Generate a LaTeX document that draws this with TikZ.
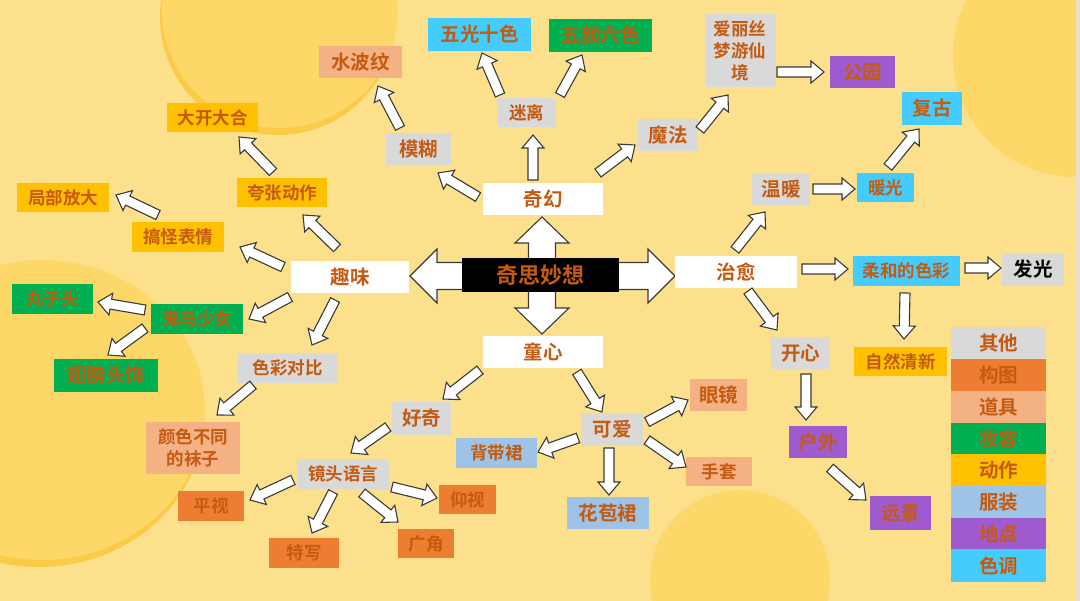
\documentclass[tikz,border=0pt]{standalone}
\usepackage{fontspec}
\setmainfont{Noto Sans CJK SC}[BoldFont={Noto Sans CJK SC Bold}]
\usetikzlibrary{calc}
\definecolor{bgc}{HTML}{FDE08C}
\definecolor{circ}{HTML}{FDD767}
\definecolor{circsh}{HTML}{FBCB48}
\definecolor{tc}{HTML}{C55A11}
\definecolor{gry}{HTML}{D9D9D9}
\definecolor{org}{HTML}{ED7D31}
\definecolor{pch}{HTML}{F4B183}
\definecolor{grn}{HTML}{00B050}
\definecolor{gld}{HTML}{FFC000}
\definecolor{blu}{HTML}{9DC3E6}
\definecolor{pur}{HTML}{A05AD0}
\definecolor{cyn}{HTML}{44CCFF}
\definecolor{arrc}{HTML}{3A3A3A}
\definecolor{stripc}{HTML}{E6E0CC}
\newcommand\barrow[2]{%
  \coordinate (ba) at #1;
  \coordinate (bb) at #2;
  \coordinate (bc) at ($(bb)!13pt!(ba)$);
  \draw[arr] ($(ba)!5pt!90:(bb)$) -- ($(bc)!5pt!-90:(ba)$) -- ($(bc)!11pt!-90:(ba)$) -- (bb)
    -- ($(bc)!11pt!90:(ba)$) -- ($(bc)!5pt!90:(ba)$) -- ($(ba)!5pt!-90:(bb)$) -- cycle;
}
\begin{document}
\begin{tikzpicture}[x=1pt,y=-1pt,
  box/.style={inner sep=0pt, text=tc, align=center, font=\bfseries\fontsize{17.5}{22}\selectfont},
  big/.style={font=\bfseries\fontsize{19.5}{22}\selectfont},
  sz/.style 2 args={minimum width=#1pt, minimum height=#2pt},
  arr/.style={draw=arrc, fill=white, line width=1.1pt, line join=miter}]
\useasboundingbox (0,0) rectangle (1080,601);
% background
\fill[bgc] (0,0) rectangle (1080,601);
\begin{scope}
\clip (0,0) rectangle (1080,601);
\fill[circsh] (278,17) circle[radius=118];
\fill[circ] (280,10) circle[radius=118];
\fill[circ] (1075,55) circle[radius=122];
\fill[circsh] (39,417) ellipse[x radius=165, y radius=150];
\fill[circ] (42,410) ellipse[x radius=163, y radius=150];
\fill[circ] (740,580) circle[radius=90];
\end{scope}
\fill[stripc] (1076,0) rectangle (1080,601);
% central four-way arrow
\draw[arr] (542,217) -- (569,243) -- (555.5,243) -- (555.5,262.5) -- (648,262.5) -- (648,249)
  -- (675,276) -- (648,303) -- (648,289.5) -- (555.5,289.5) -- (555.5,308) -- (569,308)
  -- (542,334) -- (515,308) -- (528.5,308) -- (528.5,289.5) -- (437,289.5) -- (437,303)
  -- (410,276) -- (437,249) -- (437,262.5) -- (528.5,262.5) -- (528.5,243) -- (515,243) -- cycle;
\node[box,fill=black,sz={157}{34},font=\bfseries\fontsize{22}{26}\selectfont] (cen) at (540.5,275) {奇思妙想};
% main branches
\node[box,big,fill=white,sz={120}{32}] (qh) at (543,199) {奇幻};
\node[box,big,fill=white,sz={118}{32}] (qw) at (350,277) {趣味};
\node[box,big,fill=white,sz={122}{32}] (zy) at (736,272) {治愈};
\node[box,big,fill=white,sz={120}{32}] (tx) at (543,352) {童心};
% fantasy
\node[box,big,fill=gry,sz={65}{32}] (mh) at (418.5,149) {模糊};
\node[box,fill=gry,sz={59}{29}] (ml) at (526.5,112.5) {迷离};
\node[box,big,fill=gry,sz={60}{32}] (mf) at (668,135) {魔法};
\node[box,big,fill=pch,sz={83}{32}] (sbw) at (360.5,62) {水波纹};
\node[box,big,fill=cyn,sz={103}{33}] (wgsz) at (479.5,34.5) {五光十色};
\node[box,big,fill=grn,sz={103}{33}] (wylz) at (600.5,35.5) {五颜六色};
\node[box,fill=gry,sz={71}{73}] (alice) at (740,51) {爱丽丝\\梦游仙\\境};
\node[box,big,fill=pur,sz={65}{32}] (gy) at (862.5,72) {公园};
% healing
\node[box,big,fill=gry,sz={58}{32}] (wn) at (781,189) {温暖};
\node[box,fill=cyn,sz={57}{29}] (ng) at (885.5,187.5) {暖光};
\node[box,big,fill=cyn,sz={60}{33}] (fg) at (932,108.5) {复古};
\node[box,fill=cyn,sz={107}{30}] (rh) at (906.5,271) {柔和的色彩};
\node[box,big,fill=gry,sz={62}{33},text=black] (fgl) at (1033,269.5) {发光};
\node[box,fill=gld,sz={93}{29}] (zr) at (900.5,361.5) {自然清新};
\node[box,big,fill=gry,sz={59}{32}] (kx) at (800.5,353) {开心};
\node[box,big,fill=pur,sz={58}{32}] (hw) at (818,442) {户外};
\node[box,big,fill=pur,sz={61}{34}] (yj) at (900.5,513) {远景};
% childlike
\node[box,big,fill=gry,sz={59}{33}] (hq) at (421.5,418.5) {好奇};
\node[box,big,fill=gry,sz={62}{33}] (ka) at (612,429.5) {可爱};
\node[box,fill=blu,sz={81}{30}] (bdq) at (496.5,453) {背带裙};
\node[box,big,fill=blu,sz={82}{32}] (hbq) at (608,513) {花苞裙};
\node[box,big,fill=pch,sz={57}{32}] (yjing) at (718.5,395.5) {眼镜};
\node[box,fill=pch,sz={66}{29}] (st) at (719,471.5) {手套};
\node[box,fill=gry,sz={92}{30}] (jt) at (343,474) {镜头语言};
\node[box,fill=org,sz={57}{29}] (ys) at (467.5,499.5) {仰视};
\node[box,fill=org,sz={56}{29}] (gj) at (426,543.5) {广角};
\node[box,fill=org,sz={66}{30}] (ps) at (211,506) {平视};
\node[box,fill=org,sz={70}{30}] (tx2) at (304,553) {特写};
% fun
\node[box,fill=gld,sz={90}{29}] (kz) at (282,192.5) {夸张动作};
\node[box,fill=gld,sz={91}{29}] (dk) at (212.5,117.5) {大开大合};
\node[box,fill=gld,sz={92}{30}] (gg) at (178,237) {搞怪表情};
\node[box,fill=gld,sz={92}{29}] (jb) at (63,197.5) {局部放大};
\node[box,fill=grn,sz={92}{30}] (gm) at (197,319) {鬼马少女};
\node[box,fill=grn,sz={81}{30}] (wz) at (52.5,299) {丸子头};
\node[box,big,fill=grn,sz={104}{33}] (cb) at (106,375.5) {翅膀头饰};
\node[box,fill=gry,sz={101}{30}] (sc) at (287.5,368) {色彩对比};
\node[box,fill=pch,sz={94}{52}] (wz2) at (193,448) {颜色不同\\的袜子};
% legend
\node[box,big,fill=gry,sz={95}{32}] (lg1) at (998.5,343) {其他};
\node[box,big,fill=org,sz={95}{32}] (lg2) at (998.5,375) {构图};
\node[box,big,fill=pch,sz={95}{32}] (lg3) at (998.5,407) {道具};
\node[box,big,fill=grn,sz={95}{32}] (lg4) at (998.5,439) {妆容};
\node[box,big,fill=gld,sz={95}{32}] (lg5) at (998.5,470.5) {动作};
\node[box,big,fill=blu,sz={95}{32}] (lg6) at (998.5,502.5) {服装};
\node[box,big,fill=pur,sz={95}{32}] (lg7) at (998.5,534.5) {地点};
\node[box,big,fill=cyn,sz={95}{33}] (lg8) at (998.5,566) {色调};
% arrows
\barrow{([shift={(-13,-29)}]qw.center)}{([shift={(21,22.5)}]kz.center)}
\barrow{([shift={(-9,-20.5)}]kz.center)}{([shift={(26.5,19.5)}]dk.center)}
\barrow{([shift={(-67,-10)}]qw.center)}{([shift={(62,10)}]gg.center)}
\barrow{([shift={(-20,-22)}]gg.center)}{([shift={(53,-2.5)}]jb.center)}
\barrow{([shift={(-60,20)}]qw.center)}{([shift={(52,0)}]gm.center)}
\barrow{([shift={(-52,-9)}]gm.center)}{([shift={(45.5,3)}]wz.center)}
\barrow{([shift={(-52,9)}]gm.center)}{([shift={(2,-20.5)}]cb.center)}
\barrow{([shift={(-15,23)}]qw.center)}{([shift={(24.5,-23)}]sc.center)}
\barrow{([shift={(-34.5,17)}]sc.center)}{([shift={(24,-33)}]wz2.center)}
\barrow{([shift={(-63,18)}]tx.center)}{([shift={(21.5,-19.5)}]hq.center)}
\barrow{([shift={(-33.5,8.5)}]hq.center)}{([shift={(8,-21)}]jt.center)}
\barrow{([shift={(-50,6)}]jt.center)}{([shift={(39,-6)}]ps.center)}
\barrow{([shift={(-10,18)}]jt.center)}{([shift={(8,-20)}]tx2.center)}
\barrow{([shift={(49,13)}]jt.center)}{([shift={(-30.5,-1.5)}]ys.center)}
\barrow{([shift={(19,19)}]jt.center)}{([shift={(-28,-21.5)}]gj.center)}
\barrow{([shift={(34,20)}]tx.center)}{([shift={(-10,-17.5)}]ka.center)}
\barrow{([shift={(-34,8.5)}]ka.center)}{([shift={(41.5,-1)}]bdq.center)}
\barrow{([shift={(-3,18.5)}]ka.center)}{([shift={(1,-18)}]hbq.center)}
\barrow{([shift={(35,-7.5)}]ka.center)}{([shift={(-30.5,4.5)}]yjing.center)}
\barrow{([shift={(35,10.5)}]ka.center)}{([shift={(-33,-4.5)}]st.center)}
\barrow{([shift={(-65,-2)}]qh.center)}{([shift={(19.5,24)}]mh.center)}
\barrow{([shift={(-18.5,-21)}]mh.center)}{([shift={(17.5,24)}]sbw.center)}
\barrow{([shift={(-10,-19)}]qh.center)}{([shift={(6.5,22.5)}]ml.center)}
\barrow{([shift={(-26.5,-17.5)}]ml.center)}{([shift={(2.5,18.5)}]wgsz.center)}
\barrow{([shift={(33.5,-17.5)}]ml.center)}{([shift={(-18.5,19.5)}]wylz.center)}
\barrow{([shift={(55,-26)}]qh.center)}{([shift={(-33,10)}]mf.center)}
\barrow{([shift={(32,-5)}]mf.center)}{([shift={(-12,44)}]alice.center)}
\barrow{([shift={(37,21)}]alice.center)}{([shift={(-38.5,0)}]gy.center)}
\barrow{([shift={(-1,-22)}]zy.center)}{([shift={(-16,23)}]wn.center)}
\barrow{([shift={(32,0)}]wn.center)}{([shift={(-30.5,1.5)}]ng.center)}
\barrow{([shift={(2.5,-20.5)}]ng.center)}{([shift={(-13,20.5)}]fg.center)}
\barrow{([shift={(66,-3)}]zy.center)}{([shift={(-58.5,-2)}]rh.center)}
\barrow{([shift={(58.5,-3)}]rh.center)}{([shift={(-32,-1.5)}]fgl.center)}
\barrow{([shift={(-1.5,22)}]rh.center)}{([shift={(3.5,-22.5)}]zr.center)}
\barrow{([shift={(12,19)}]zy.center)}{([shift={(-23.5,-23)}]kx.center)}
\barrow{([shift={(5.5,21)}]kx.center)}{([shift={(-12,-22)}]hw.center)}
\barrow{([shift={(12,26)}]hw.center)}{([shift={(-34.5,-13)}]yj.center)}
\end{tikzpicture}
\end{document}
